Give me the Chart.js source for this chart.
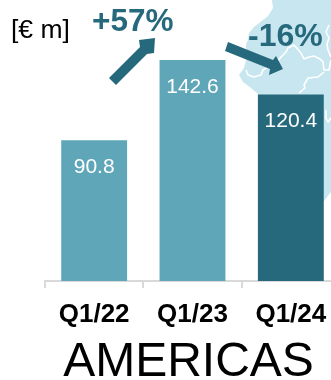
<!DOCTYPE html>
<html>
<head>
<meta charset="utf-8">
<style>
  html, body { margin: 0; padding: 0; background: #fff; overflow: hidden; }
  #wrap { width: 331px; height: 380px; overflow: hidden; }
</style>
<script src="https://cdn.jsdelivr.net/npm/chart.js@4"></script>
</head>
<body>
<div id="wrap"><canvas id="barChart_americas" width="340" height="380"></canvas></div>
<script>
var quarters = ['Q1/22', 'Q1/23', 'Q1/24'];
var revenue = [90.8, 142.6, 120.4];
var barColors = ['#5fa6b9', '#5fa6b9', '#26697c'];
var regionTitle = 'AMERICAS';
var unitLabel = '[€ m]';
var growthLabels = ['+57%', '-16%'];

var font = '"Liberation Sans", Arial, sans-serif';
var darkTeal = '#26697c';

function tracePath(ctx, pts) {
    ctx.beginPath();
    pts.forEach((p, i) => i ? ctx.lineTo(p[0], p[1]) : ctx.moveTo(p[0], p[1]));
}

function fillPoly(ctx, pts) {
    tracePath(ctx, pts);
    ctx.closePath();
    ctx.fill();
}

// pale map behind the last bar
var mapBackdrop = {
    id: 'mapBackdrop',
    beforeDatasetsDraw(chart) {
        let ctx = chart.ctx;
        ctx.save();
        ctx.fillStyle = '#c8e6ef';
        fillPoly(ctx, [[272,0],[273,8],[268,16],[263,20],[254,27],[249,33],[248,40],[246,44],[246,60],[244,68],
            [239,75],[243,82],[251,88],[258,94],[258,200],[324,201],[331,192],[331,0]]);

        // borders
        ctx.strokeStyle = '#fff';
        ctx.lineWidth = 1.6;
        ctx.lineJoin = 'round';
        let borders = [
            [[294,45],[288,48],[286,52],[281,57],[277,62]],
            [[294,45],[301,53],[304,59],[309,57],[314,56],[320,59],[323,62],[324,70],[329,70],[331,60]],
            [[329,25],[326,32],[329,38],[327,44],[328,50],[331,57]],
            [[324,72],[318,77],[308,78],[304,85],[305,88],[299,93]],
            [[246,70],[248,75],[254,77],[261,75],[263,70],[268,67]],
            [[326,110],[326,118],[328,122],[331,118]]
        ];
        borders.forEach(line => {
            tracePath(ctx, line);
            ctx.stroke();
        });
        ctx.restore();
    }
};

// value labels, arrows and the free-standing texts
var annotations = {
    id: 'annotations',
    afterDatasetsDraw(chart) {
        let ctx = chart.ctx;
        ctx.save();
        ctx.textAlign = 'center';
        ctx.textBaseline = 'middle';
        ctx.fillStyle = '#fff';
        ctx.font = '21px ' + font;
        chart.getDatasetMeta(0).data.forEach((bar, i) => {
            ctx.fillText(revenue[i].toFixed(1), bar.x, bar.y + 27);
        });

        ctx.fillStyle = darkTeal;
        fillPoly(ctx, [[109,78],[116,85],[147,54],[154,53],[155,38],[139,40],[140,47]]);
        fillPoly(ctx, [[228,42],[225,51],[270,69],[269,75],[283,69],[276,56],[273,60]]);

        ctx.textAlign = 'left';
        ctx.font = 'bold 31.5px ' + font;
        ctx.fillText(growthLabels[0], 92, 22);
        ctx.font = 'bold 32px ' + font;
        ctx.fillText(growthLabels[1], 248, 37);

        ctx.fillStyle = '#000';
        ctx.font = '26.5px ' + font;
        ctx.fillText(unitLabel, 11, 31);

        ctx.textAlign = 'center';
        ctx.textBaseline = 'alphabetic';
        ctx.font = '48px ' + font;
        ctx.fillText(regionTitle, 188.5, 376);
        ctx.restore();
    }
};

new Chart(document.querySelector('#barChart_americas'), {
    type: 'bar',
    data: {
        labels: quarters,
        datasets: [{
            data: revenue,
            backgroundColor: barColors,
            categoryPercentage: 1,
            barPercentage: 0.67
        }]
    },
    options: {
        responsive: false,
        animation: false,
        layout: { padding: { left: 45, right: 0, top: 0, bottom: 0 } },
        plugins: { legend: { display: false }, tooltip: { enabled: false } },
        scales: {
            y: { display: false, min: 0, max: 181.3 },
            x: {
                afterFit: (scale) => { scale.height = 99; },
                border: { color: '#d9d9d9', width: 2 },
                grid: { color: '#d9d9d9', lineWidth: 2, drawOnChartArea: false, tickLength: 7 },
                ticks: { color: '#000', padding: 11, maxRotation: 0, font: { family: font, size: 26, weight: 'bold' } }
            }
        }
    },
    plugins: [mapBackdrop, annotations]
});
</script>
</body>
</html>
